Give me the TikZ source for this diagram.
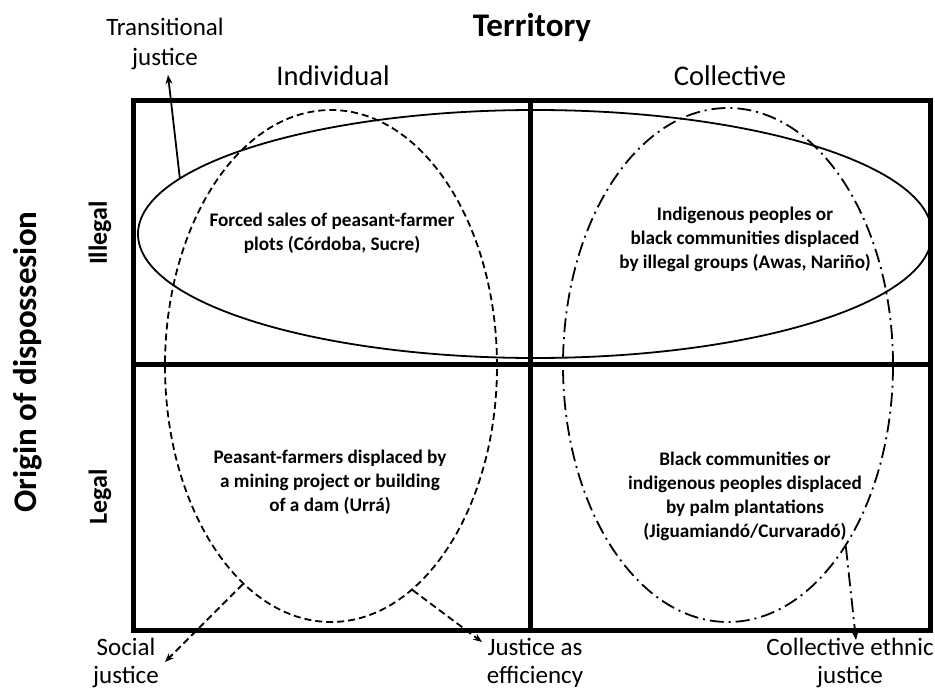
\documentclass[tikz,border=0pt]{standalone}
\usepackage{fontspec}
\setmainfont{Carlito}
\usetikzlibrary{shapes.geometric,arrows.meta}
\begin{document}
\begin{tikzpicture}[x=1pt,y=-1pt,
  frame/.style={line width=5pt},
  ell/.style={ellipse,draw,line width=1.8pt,inner sep=0pt},
  dashpat/.style={dash pattern=on 7pt off 4pt},
  dashdotpat/.style={dash pattern=on 14pt off 5pt on 2pt off 5pt},
  lbl/.style={align=center,inner sep=0pt,font=\fontsize{25}{29.5}\selectfont},
  blbl/.style={align=center,inner sep=0pt,font=\fontsize{25}{28.5}\selectfont},
  quad/.style={align=center,inner sep=0pt,font=\fontsize{19.2}{24}\selectfont\bfseries},
  head/.style={inner sep=0pt,font=\fontsize{28.5}{32}\selectfont},
  axis/.style={inner sep=0pt,font=\fontsize{33}{36}\selectfont\bfseries},
  row/.style={inner sep=0pt,rotate=90,font=\fontsize{26}{30}\selectfont\bfseries},
  arr/.style={line width=1.8pt,-{Stealth[length=9pt,width=7pt]}}
]
\useasboundingbox (0,0) rectangle (935,690);
% frame
\draw[frame] (133,101) rectangle (930,630);
\draw[frame] (530,101) -- (530,630);
\draw[frame] (133,364) -- (930,364);
% headings
\node[axis] (terr) at (532,28) {Territory};
\node[head] (ind) at (333,76) {Individual};
\node[head] (col) at (730,76) {Collective};
\node[axis,rotate=90] (orig) at (28,362) {Origin of dispossesion};
\node[row] (ill) at (100,233) {Illegal};
\node[row] (leg) at (100,497) {Legal};
% quadrant texts
\node[quad] (q1) at (332,233) {Forced sales of peasant-farmer\\plots (Córdoba, Sucre)};
\node[quad] (q2) at (745,239) {Indigenous peoples or\\black communities displaced\\by illegal groups (Awas, Nariño)};
\node[quad] (q3) at (330,482) {Peasant-farmers displaced by\\a mining project or building\\of a dam (Urrá)};
\node[quad] (q4) at (745,496) {Black communities or\\indigenous peoples displaced\\by palm plantations\\(Jiguamiandó/Curvaradó)};
% ellipses
\node[ell,minimum width=794pt,minimum height=248pt] (e1) at (535,234) {};
\node[ell,dashpat,minimum width=332pt,minimum height=512pt] (e2) at (331,366) {};
\node[ell,dashdotpat,minimum width=330pt,minimum height=514pt] (e3) at (728,365) {};
% labels
\node[lbl] (tj) at (165,44) {Transitional\\justice};
\node[blbl] (sj) at (126,663) {Social\\justice};
\node[blbl] (je) at (535,663) {Justice as\\efficiency};
\node[blbl] (cj) at (850,663) {Collective ethnic\\justice};
\coordinate (tjend) at (168,75);
\coordinate (sjend) at (165,662);
\coordinate (jeend) at (482,642);
\coordinate (cjend) at (856,640);
% connectors
\draw[arr] (e1.171) -- (tjend);
\draw[arr,dashpat] (e2.248) -- (sjend);
\draw[arr,dashpat] (e2.290) -- (jeend);
\draw[arr,dashdotpat] (e3.303) -- (cjend);
\end{tikzpicture}
\end{document}
